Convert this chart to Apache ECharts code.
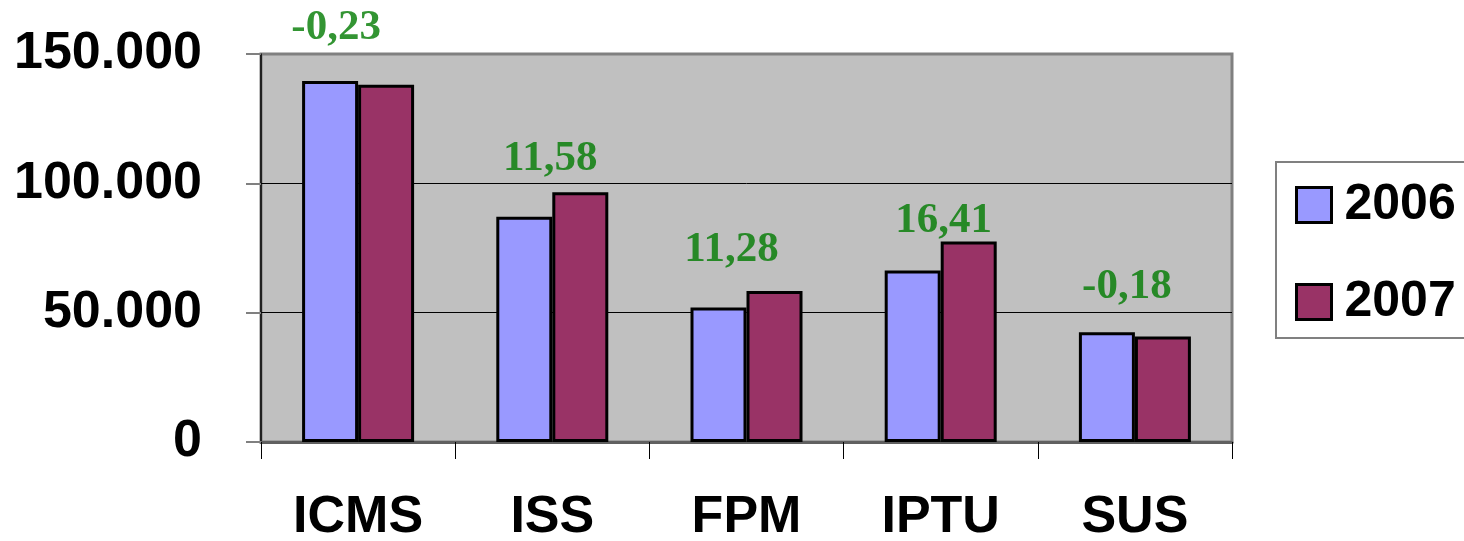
<!DOCTYPE html>
<html>
<head>
<meta charset="utf-8">
<script src="https://cdn.jsdelivr.net/npm/echarts@6/dist/echarts.min.js"></script>
<style>
html,body{margin:0;padding:0;background:#fff;}
#chart{width:1464px;height:541px;}
</style>
</head>
<body>
<div id="chart"></div>
<script>
// ---- data ----
var categories = ['ICMS', 'ISS', 'FPM', 'IPTU', 'SUS'];
var seriesNames = ['2006', '2007'];
var values2006 = [139600, 87100, 52000, 66300, 42400];
var values2007 = [138100, 96600, 58400, 77500, 40800];
var changeLabels = ['-0,23', '11,58', '11,28', '16,41', '-0,18'];
var yTicks = [0, 50000, 100000, 150000];

// ---- label placement (style only) ----
var labelOffsets = [[-22, -53], [-2, -33], [-15, -41], [3, -21], [-8, -45]];

function fmtThousands(v) {
  return String(v).replace(/\B(?=(\d{3})+(?!\d))/g, '.');
}

var labelData = categories.map(function (c, i) {
  return {
    value: [i, Math.max(values2006[i], values2007[i])],
    label: { offset: labelOffsets[i] }
  };
});

var chart = echarts.init(document.getElementById('chart'), null, { renderer: 'canvas' });
var sansBold = { fontFamily: 'Liberation Sans, Arial, sans-serif', fontWeight: 'bold', color: '#000' };

chart.setOption({
  animation: false,
  backgroundColor: '#fff',
  grid: {
    left: 261, right: 232, top: 54, bottom: 99,
    outerBoundsMode: 'none',
    containLabel: false,
    show: true,
    backgroundColor: '#C0C0C0',
    borderColor: '#808080',
    borderWidth: 3
  },
  legend: {
    data: seriesNames,
    orient: 'vertical',
    left: 1276,
    top: 162,
    padding: [18, 30, 11, 19],
    backgroundColor: '#fff',
    borderColor: '#808080',
    borderWidth: 2,
    borderRadius: 0,
    itemWidth: 35,
    itemHeight: 35,
    itemGap: 47,
    icon: 'rect',
    itemStyle: { borderColor: '#000', borderWidth: 3 },
    textStyle: Object.assign({ fontSize: 50, lineHeight: 50, padding: [0, 0, 0, 8] }, sansBold)
  },
  xAxis: {
    type: 'category',
    data: categories,
    axisLine: { lineStyle: { color: '#606060', width: 3 } },
    axisTick: { show: true, length: 17, lineStyle: { color: '#000', width: 1 } },
    axisLabel: Object.assign({ fontSize: 52, margin: 50 }, sansBold),
    splitLine: { show: false }
  },
  yAxis: {
    type: 'value',
    min: yTicks[0],
    max: yTicks[yTicks.length - 1],
    interval: yTicks[1] - yTicks[0],
    axisLine: { show: true, lineStyle: { color: '#000', width: 1.5 } },
    axisTick: { show: true, length: 15, lineStyle: { color: '#808080', width: 2 } },
    axisLabel: Object.assign({ fontSize: 52, margin: 59, formatter: fmtThousands }, sansBold),
    splitLine: { show: true, showMinLine: false, showMaxLine: false, lineStyle: { color: '#000', width: 1 } }
  },
  series: [
    {
      name: seriesNames[0],
      type: 'bar',
      data: values2006,
      barWidth: 56,
      barGap: '0%',
      itemStyle: { color: '#9999FF', borderColor: '#000', borderWidth: 3 }
    },
    {
      name: seriesNames[1],
      type: 'bar',
      data: values2007,
      barWidth: 56,
      barGap: '0%',
      itemStyle: { color: '#993366', borderColor: '#000', borderWidth: 3 }
    },
    {
      name: 'variação',
      type: 'scatter',
      data: labelData,
      symbolSize: 0,
      z: 10,
      silent: true,
      label: {
        show: true,
        position: 'inside',
        formatter: function (p) { return changeLabels[p.dataIndex]; },
        fontFamily: 'Liberation Serif, Times New Roman, serif',
        fontWeight: 'bold',
        fontSize: 43,
        color: '#007A00'
      }
    }
  ]
});
</script>
</body>
</html>
